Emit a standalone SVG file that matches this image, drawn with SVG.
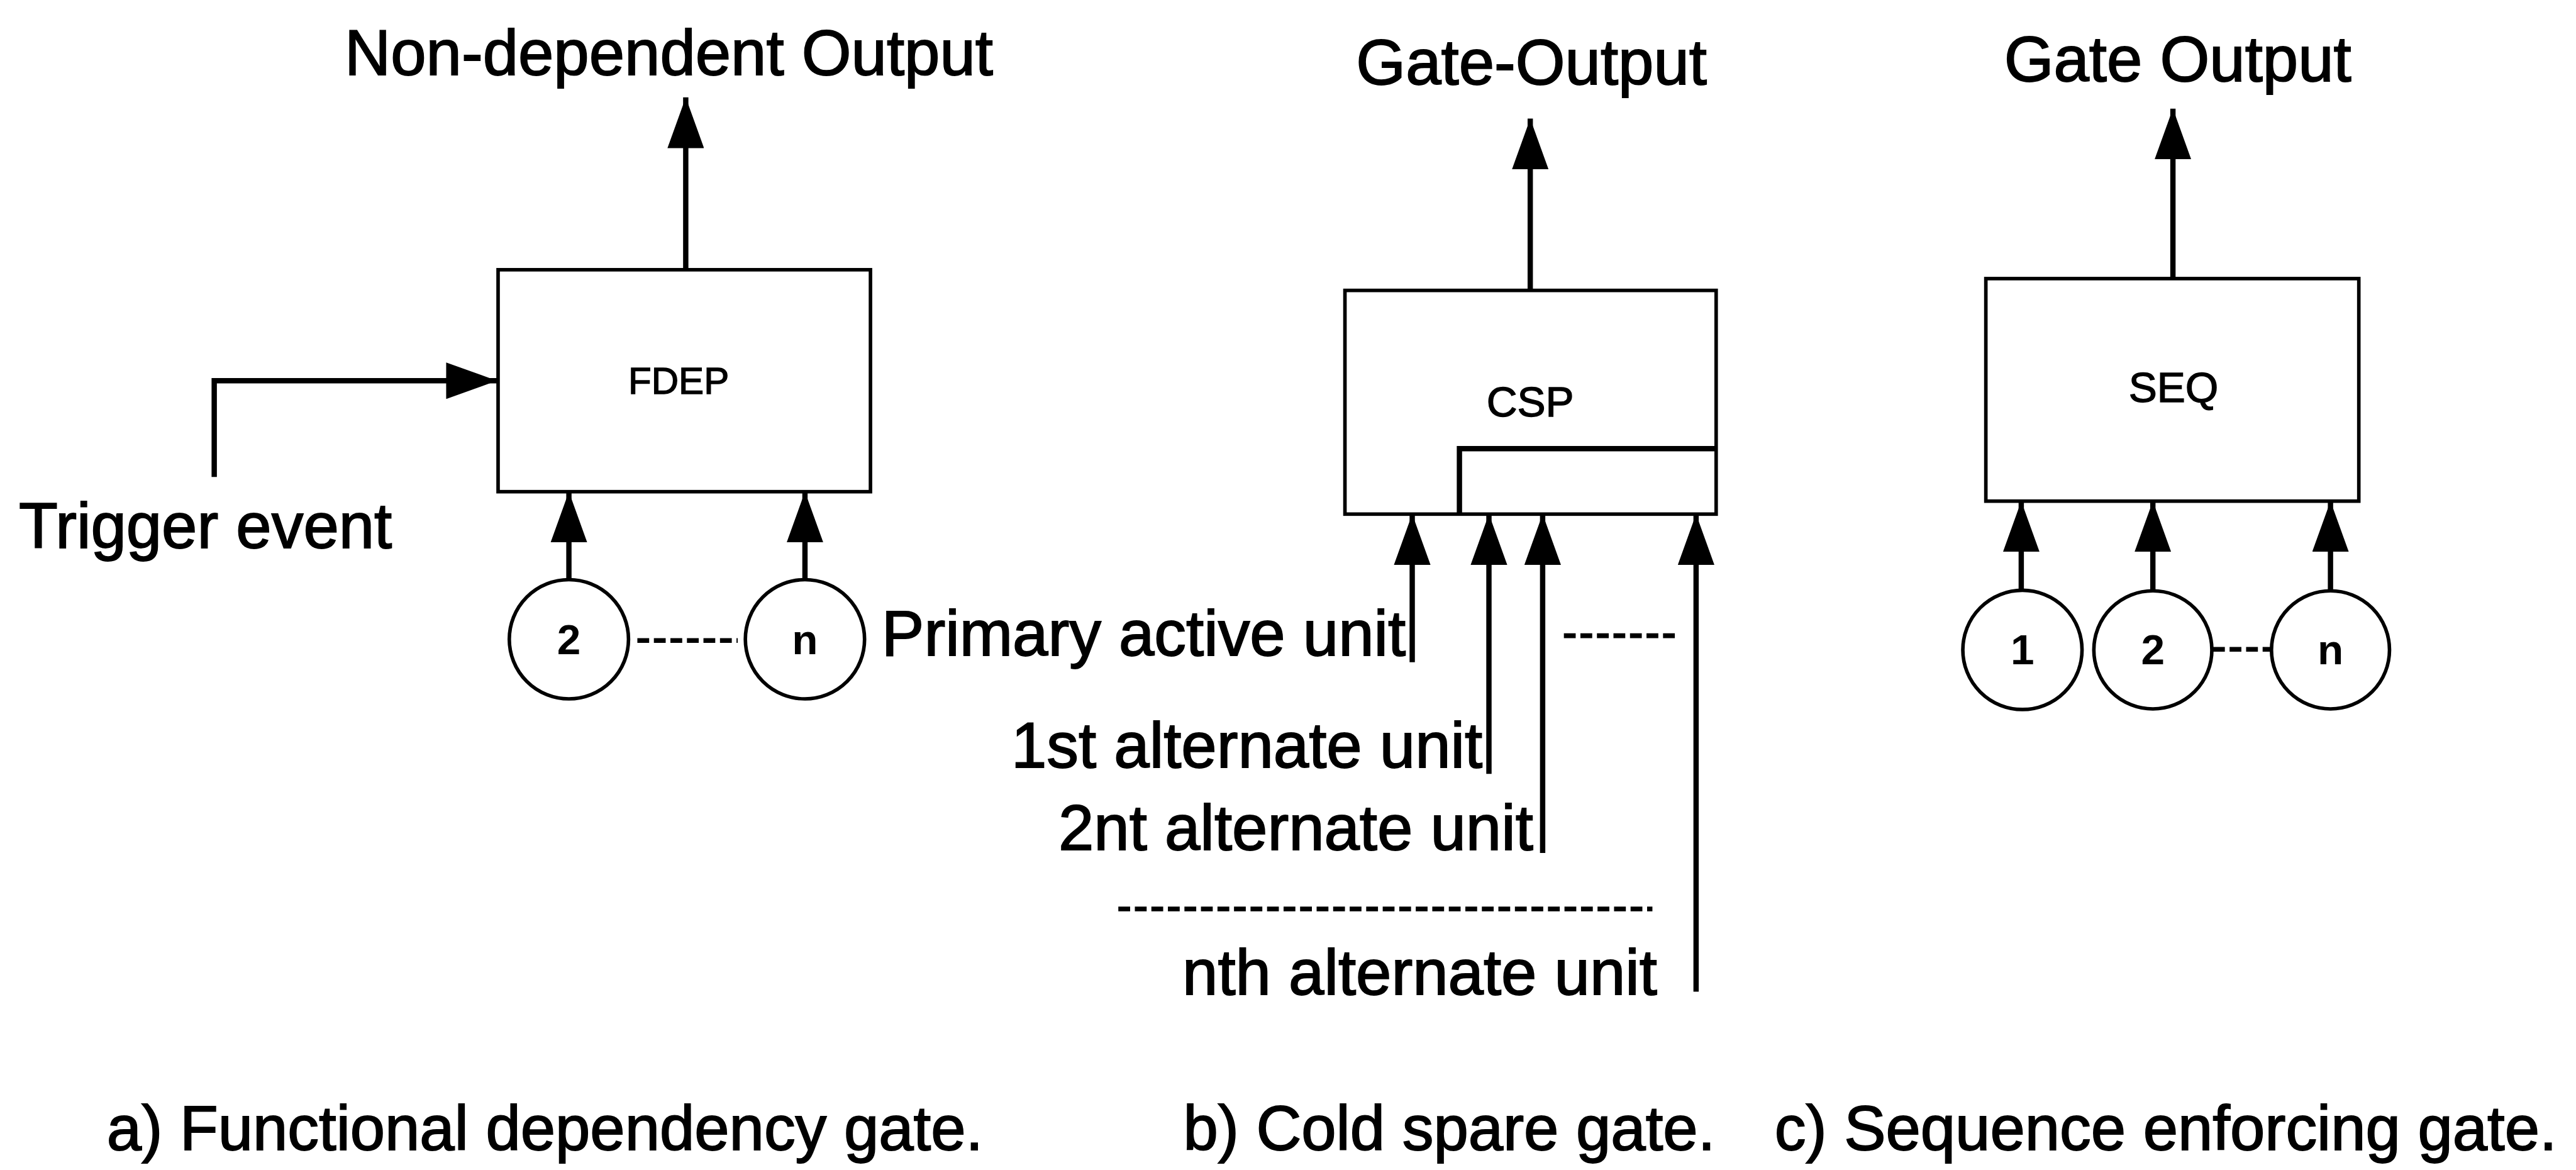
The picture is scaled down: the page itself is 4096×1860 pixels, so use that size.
<svg xmlns="http://www.w3.org/2000/svg" width="4096" height="1860" viewBox="0 0 4096 1860">
<defs>
<style>
.box{fill:none;stroke:#000;stroke-width:6}
.circ{fill:#fff;stroke:#000;stroke-width:6}
.wire{fill:none;stroke:#000;stroke-width:9}
.dash{fill:none;stroke:#000;stroke-width:8;stroke-dasharray:20 8}
.lbl{font-family:"Liberation Sans",Arial,Helvetica,sans-serif;font-size:108px;fill:#000;stroke:#000;stroke-width:2}
.cap{font-family:"Liberation Sans",Arial,Helvetica,sans-serif;font-size:106px;fill:#000;stroke:#000;stroke-width:2}
.gname{font-family:"Liberation Sans",Arial,Helvetica,sans-serif;font-size:72px;fill:#000;stroke:#000;stroke-width:1.5;text-anchor:middle}
.num{font-family:"Liberation Sans",Arial,Helvetica,sans-serif;font-size:72px;font-weight:bold;fill:#000;text-anchor:middle}
</style>
<marker id="ah" viewBox="0 0 86 62" refX="86" refY="31" markerWidth="86" markerHeight="62" markerUnits="userSpaceOnUse" orient="auto">
<path d="M0,0 L86,31 L0,62 z" fill="#000"/>
</marker>
</defs>
<rect width="4096" height="1860" fill="#fff"/>
<g transform="scale(0.93837)">
<g id="connectors">
<line class="wire" x1="1162" y1="457" x2="1162" y2="165" marker-end="url(#ah)"/>
<polyline class="wire" points="363,808 363,645 842,645" marker-end="url(#ah)"/>
<line class="wire" x1="964" y1="982" x2="964" y2="833" marker-end="url(#ah)"/>
<line class="wire" x1="1364" y1="982" x2="1364" y2="833" marker-end="url(#ah)"/>
<line class="dash" x1="1080" y1="1085" x2="1250" y2="1085"/>
<line class="wire" x1="2593" y1="492" x2="2593" y2="201" marker-end="url(#ah)"/>
<line class="wire" x1="2393" y1="1122" x2="2393" y2="871" marker-end="url(#ah)"/>
<line class="wire" x1="2523" y1="1311" x2="2523" y2="871" marker-end="url(#ah)"/>
<line class="wire" x1="2614" y1="1445" x2="2614" y2="871" marker-end="url(#ah)"/>
<line class="wire" x1="2874" y1="1680" x2="2874" y2="871" marker-end="url(#ah)"/>
<line class="dash" x1="2650" y1="1077" x2="2839" y2="1077"/>
<line class="dash" x1="1895" y1="1540" x2="2800" y2="1540"/>
<line class="wire" x1="3682" y1="472" x2="3682" y2="184" marker-end="url(#ah)"/>
<line class="wire" x1="3425" y1="1000" x2="3425" y2="849" marker-end="url(#ah)"/>
<line class="wire" x1="3648" y1="1000" x2="3648" y2="849" marker-end="url(#ah)"/>
<line class="wire" x1="3949" y1="1000" x2="3949" y2="849" marker-end="url(#ah)"/>
<line class="dash" x1="3750" y1="1100" x2="3851" y2="1100"/>
</g>
<g id="fdep">
<rect class="box" x="844" y="457" width="631" height="376"/>
<text class="gname" x="1150" y="667" style="font-size:64px">FDEP</text>
</g>
<g id="fdep-in2">
<circle class="circ" cx="964" cy="1083" r="101"/>
<text class="num" x="964" y="1108">2</text>
</g>
<g id="fdep-inn">
<circle class="circ" cx="1364" cy="1083" r="101"/>
<text class="num" x="1364" y="1108">n</text>
</g>
<g id="csp">
<rect class="box" x="2279" y="492" width="629" height="379"/>
<polyline class="wire" points="2473,871 2473,760 2910,760"/>
<text class="gname" x="2593" y="705">CSP</text>
</g>
<g id="seq">
<rect class="box" x="3365" y="472" width="632" height="377"/>
<text class="gname" x="3683" y="681">SEQ</text>
</g>
<g id="seq-in1">
<circle class="circ" cx="3427" cy="1101" r="101"/>
<text class="num" x="3427" y="1125">1</text>
</g>
<g id="seq-in2">
<circle class="circ" cx="3648" cy="1101" r="100"/>
<text class="num" x="3648" y="1125">2</text>
</g>
<g id="seq-inn">
<circle class="circ" cx="3949" cy="1101" r="100"/>
<text class="num" x="3949" y="1125">n</text>
</g>
<g id="labels">
<text class="lbl" x="584" y="127">Non-dependent Output</text>
<text class="lbl" x="2298" y="143">Gate-Output</text>
<text class="lbl" x="3396" y="137">Gate Output</text>
<text class="lbl" x="32" y="928">Trigger event</text>
<text class="lbl" x="2382" y="1110" text-anchor="end">Primary active unit</text>
<text class="lbl" x="2512" y="1300" text-anchor="end">1st alternate unit</text>
<text class="lbl" x="2598" y="1440" text-anchor="end">2nt alternate unit</text>
<text class="lbl" x="2808" y="1685" text-anchor="end">nth alternate unit</text>
<text class="cap" x="181" y="1948">a) Functional dependency gate.</text>
<text class="cap" x="2005" y="1948">b) Cold spare gate.</text>
<text class="cap" x="3007" y="1948">c) Sequence enforcing gate.</text>
</g>
</g>
</svg>
